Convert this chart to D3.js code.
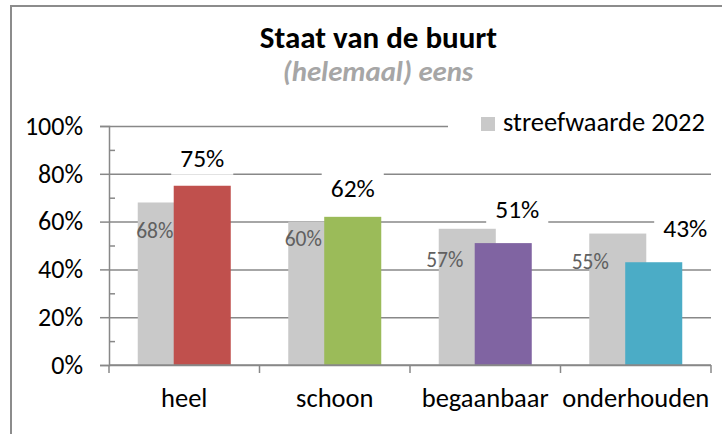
<!DOCTYPE html>
<html>
<head>
<meta charset="utf-8">
<script src="https://cdn.jsdelivr.net/npm/d3@7"></script>
<style>
  html, body { margin: 0; padding: 0; background: #fff; }
  svg { display: block; }
  text { font-family: Carlito, Calibri, "Liberation Sans", Arial, sans-serif; }
</style>
</head>
<body>
<svg id="chart" width="722" height="434"></svg>
<script>
// ---- data ----
const categories = ["heel", "schoon", "begaanbaar", "onderhouden"];
const streefwaarde = [68, 60, 57, 55];
const actual = [75, 62, 51, 43];
const yTicks = [0, 20, 40, 60, 80, 100];
const yMinorTicks = [10, 30, 50, 70, 90];
const legendLabel = "streefwaarde 2022";
const title = "Staat van de buurt";
const subtitle = "(helemaal) eens";

// ---- styling / layout ----
const barColors = ["#c0504d", "#9bbb59", "#8064a2", "#4bacc6"];
const targetColor = "#c9c9c9";
const gridColor = "#888888";
// label nudges (layout only)
const targetLabelDx = [17, 15, 6, 1];
const targetLabelDy = [35.5, 24, 38, 35];
const actualLabelDx = [0, 0, 14, 31.5];
const actualLabelDy = [19, 20, 25, 25];

const svg = d3.select("#chart");

// outer frame
svg.append("rect").attr("x", 11).attr("y", 6).attr("width", 800).attr("height", 500)
  .attr("fill", "#fff").attr("stroke", "#8c8c8c").attr("stroke-width", 2);

const plotLeft = 109, plotRight = 711, plotTop = 126, plotBottom = 365;
const x = d3.scaleBand().domain(categories).range([plotLeft, plotRight]).padding(0);
const y = d3.scaleLinear().domain([0, 100]).range([plotBottom, plotTop]);
const bw = x.bandwidth();
const barW = bw * 0.379;
const barShift = bw * 0.239;
const groupW = barW + barShift;

// titles
svg.append("text").attr("x", 378.5).attr("y", 48).attr("text-anchor", "middle")
  .attr("font-weight", "bold").attr("font-size", 31).attr("fill", "#000").text(title);
svg.append("text").attr("x", 378).attr("y", 80.5).attr("text-anchor", "middle")
  .attr("font-weight", "bold").attr("font-style", "italic").attr("font-size", 28.8)
  .attr("fill", "#a6a6a6").text(subtitle);

// gridlines
const grid = svg.append("g").attr("transform", `translate(${plotLeft},0)`)
  .call(d3.axisLeft(y).tickValues(yTicks).tickSize(-(plotRight - plotLeft)).tickFormat(""));
grid.select(".domain").remove();
grid.selectAll("line").attr("stroke", gridColor).attr("stroke-width", 1.5);

// y axis
const yAxis = svg.append("g").attr("transform", `translate(${plotLeft},0)`)
  .call(d3.axisLeft(y).tickValues(yTicks).tickSize(9).tickPadding(17).tickFormat(d => d + "%"));
yAxis.select(".domain").attr("stroke", gridColor).attr("stroke-width", 1.5);
yAxis.selectAll("line").attr("stroke", gridColor).attr("stroke-width", 1.5);
yAxis.selectAll("text").attr("font-size", 26).attr("fill", "#000")
  .attr("font-family", "Carlito, Calibri, 'Liberation Sans', Arial, sans-serif");

const yMinor = svg.append("g").attr("transform", `translate(${plotLeft},0)`)
  .call(d3.axisRight(y).tickValues(yMinorTicks).tickSize(6).tickFormat(""));
yMinor.select(".domain").remove();
yMinor.selectAll("line").attr("stroke", gridColor).attr("stroke-width", 1.5);

// bars
const groupStart = (c) => x(c) + bw / 2 - groupW / 2;
svg.append("g").selectAll("rect").data(categories).join("rect")
  .attr("x", (c) => groupStart(c))
  .attr("y", (c, i) => y(streefwaarde[i]))
  .attr("width", barW)
  .attr("height", (c, i) => y(0) - y(streefwaarde[i]))
  .attr("fill", targetColor);
svg.append("g").selectAll("rect").data(categories).join("rect")
  .attr("x", (c) => groupStart(c) + barShift)
  .attr("y", (c, i) => y(actual[i]))
  .attr("width", barW)
  .attr("height", (c, i) => y(0) - y(actual[i]))
  .attr("fill", (c, i) => barColors[i]);

// x axis
svg.append("line").attr("x1", plotLeft).attr("x2", plotRight).attr("y1", y(0)).attr("y2", y(0))
  .attr("stroke", gridColor).attr("stroke-width", 1.5);
const bounds = categories.map(c => x(c)).concat([x.range()[1]]);
svg.append("g").selectAll("line").data(bounds).join("line")
  .attr("x1", d => d).attr("x2", d => d).attr("y1", y(0)).attr("y2", y(0) + 8)
  .attr("stroke", gridColor).attr("stroke-width", 1.5);
svg.append("g").selectAll("text").data(categories).join("text")
  .attr("x", c => x(c) + bw / 2).attr("y", y(0) + 42)
  .attr("text-anchor", "middle").attr("font-size", 26.5).attr("fill", "#000")
  .text(c => c);

// target labels
svg.append("g").selectAll("text").data(categories).join("text")
  .attr("x", (c, i) => groupStart(c) + targetLabelDx[i])
  .attr("y", (c, i) => y(streefwaarde[i]) + targetLabelDy[i])
  .attr("text-anchor", "middle").attr("font-size", 21.5).attr("fill", "#606060")
  .text((c, i) => streefwaarde[i] + "%");

// actual labels with white boxes
const lab = svg.append("g").selectAll("g").data(categories).join("g")
  .attr("transform", (c, i) => `translate(${groupStart(c) + barShift + barW / 2 + actualLabelDx[i]},${y(actual[i]) - actualLabelDy[i]})`);
lab.append("rect").attr("fill", "#fff");
lab.append("text").attr("text-anchor", "middle").attr("font-size", 25.5).attr("fill", "#000")
  .text((c, i) => actual[i] + "%");
lab.each(function () {
  const g = d3.select(this);
  const w = g.select("text").node().getComputedTextLength();
  g.select("rect").attr("x", -w / 2 - 9).attr("y", -24).attr("width", w + 18).attr("height", 32);
});

// legend
const lg = svg.append("g");
lg.append("rect").attr("x", 448).attr("y", 108).attr("width", 268).attr("height", 32).attr("fill", "#fff");
lg.append("rect").attr("x", 481).attr("y", 117).attr("width", 14).attr("height", 14).attr("fill", targetColor);
lg.append("text").attr("x", 503).attr("y", 131).attr("font-size", 26.5).attr("fill", "#000").text(legendLabel);
</script>
</body>
</html>
